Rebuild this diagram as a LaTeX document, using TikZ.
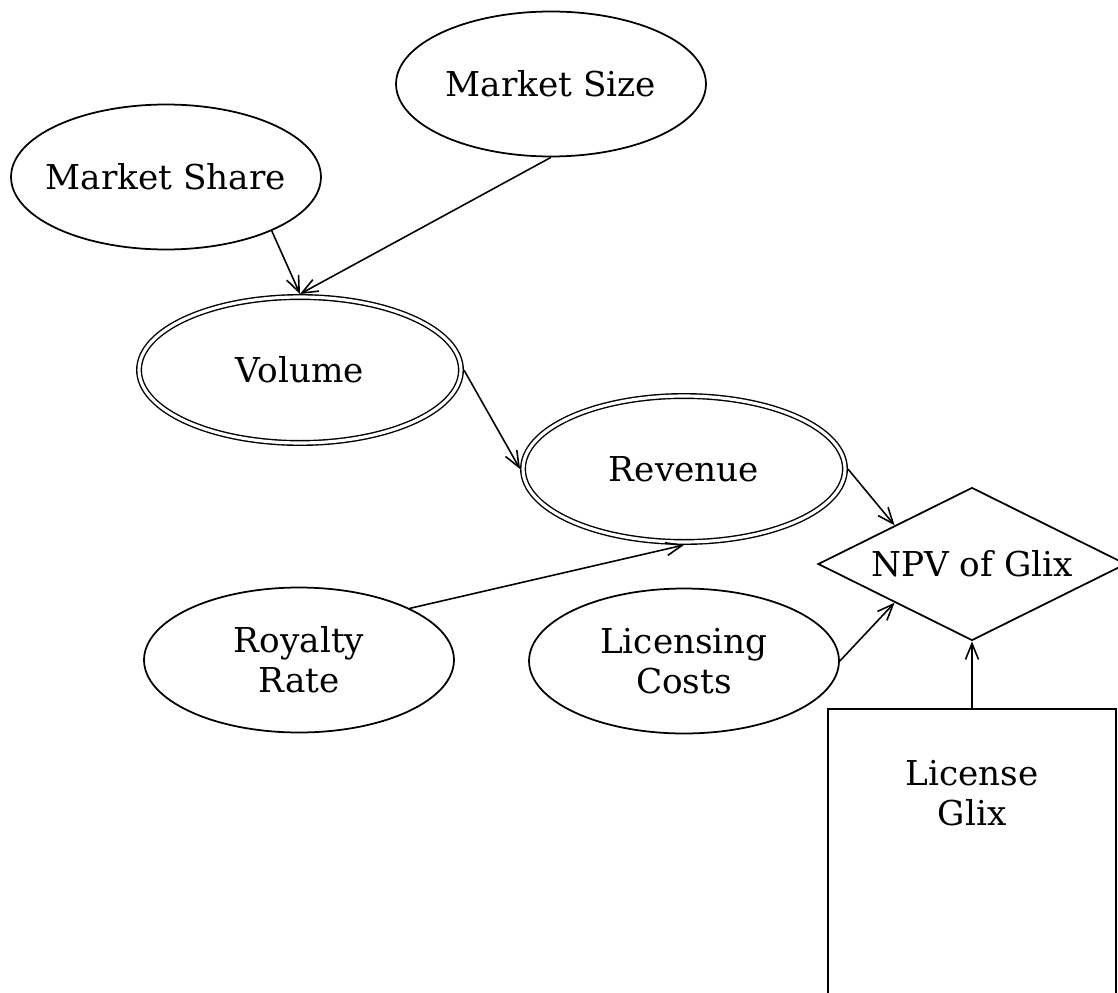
\documentclass[tikz,border=0pt]{standalone}
\usepackage{fontspec}
\setmainfont{DejaVu Serif}
\usetikzlibrary{shapes.geometric,arrows.meta}
\begin{document}
\begin{tikzpicture}[x=0.02cm,y=-0.02cm,
  every node/.style={font=\fontsize{19.5}{22.8}\selectfont, align=center, inner sep=0pt},
  chance/.style={ellipse, draw, line width=1pt, inner xsep=-1cm, minimum width=6.2cm, minimum height=2.9cm},
  calc/.style={ellipse, draw, line width=0.8pt, double, double distance=1.8pt, inner xsep=-1cm, outer sep=1.7pt, minimum width=6.44cm, minimum height=2.92cm},
  value/.style={diamond, draw, line width=1pt, minimum width=6.16cm, minimum height=3.06cm, aspect=2},
  decision/.style={rectangle, draw, line width=1pt, minimum width=5.76cm, minimum height=7cm, anchor=north},
  link/.style={line width=0.9pt, -{Straight Barb[length=3.2mm,width=2.6mm,line width=0.9pt]}}
]
\useasboundingbox (0,0) rectangle (1118,993);
\node[chance] (msize) at (551,84) {Market Size};
\node[chance] (mshare) at (166,177) {Market Share};
\node[calc] (vol) at (300,370) {Volume};
\node[calc] (rev) at (684,469) {Revenue};
\node[value] (npv) at (972,564) {NPV of Glix};
\node[chance] (rr) at (299,660) {Royalty\\Rate};
\node[chance] (lc) at (684,661) {Licensing\\Costs};
\node[decision] (lic) at (972,708) {};
\node (lictext) at (972,793) {License\\Glix};

\draw[link] (mshare.-27) -- (vol.north);
\draw[link] (msize.south) -- (vol.north);
\draw[link] (vol.east) -- (rev.west);
\draw[link] (rev.east) -- (npv.north west);
\draw[link] (rr.25) -- (rev.south);
\draw[link] (lc.east) -- (npv.south west);
\draw[link] (lic.north) -- (npv.south);
\end{tikzpicture}
\end{document}
